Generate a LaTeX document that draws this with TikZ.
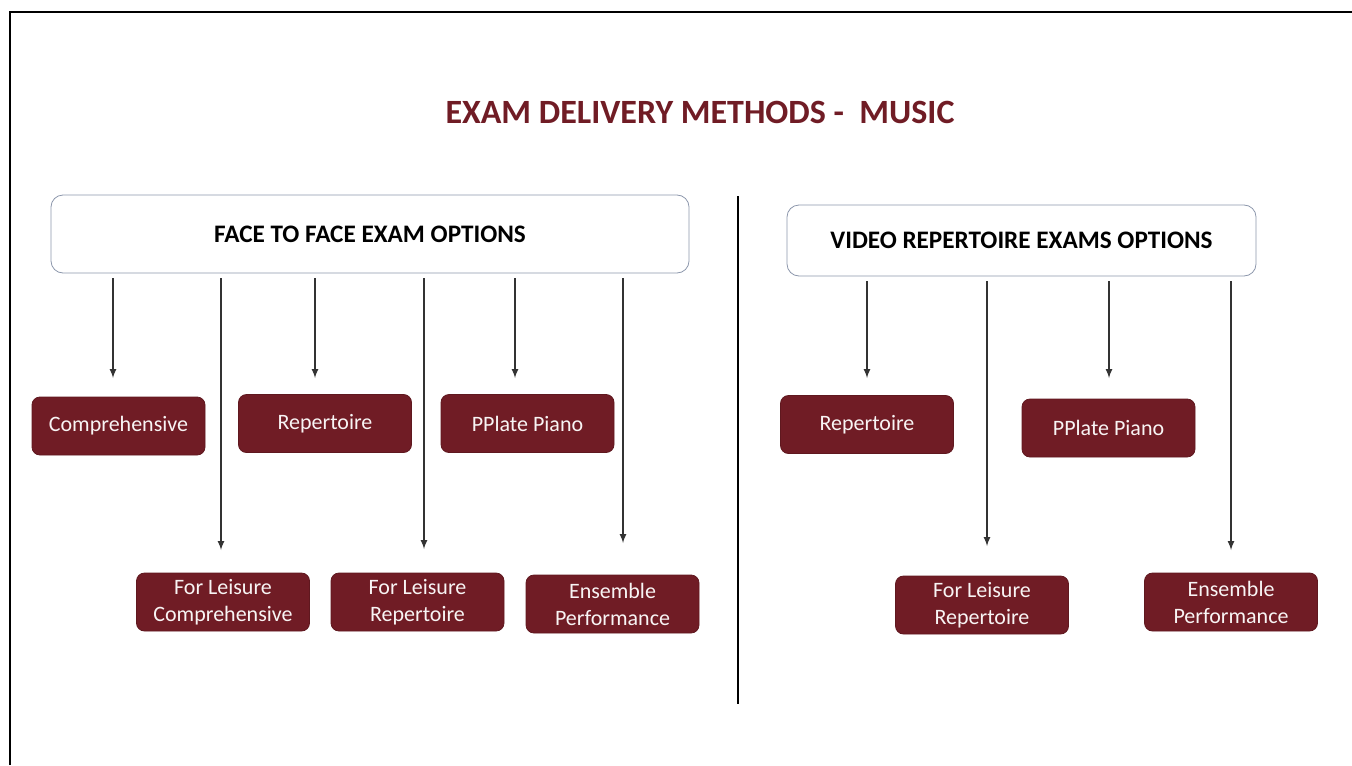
\documentclass[tikz,border=0pt]{standalone}
\usepackage{fontspec}
\setmainfont{Carlito}
\usepackage{tikz}

\definecolor{examred}{HTML}{701C25}
\definecolor{hdrline}{HTML}{8C97AC}

\tikzset{
  optbox/.style={draw=examred!85!black, fill=examred, text=white!95!examred, rounded corners=4pt,
    minimum width=86.5pt, minimum height=29pt, inner sep=0pt, align=center,
    font=\fontsize{11}{13.5}\selectfont},
  hdrbox/.style={draw=hdrline, fill=white, rounded corners=6pt, inner sep=0pt,
    font=\bfseries\fontsize{12.6}{15}\selectfont},
  arr/.style={->, >=latex, draw=black!80, line width=0.55pt, shorten <=2.5pt}
}

\begin{document}
\begin{tikzpicture}[x=0.5pt, y=-0.5pt]
    \useasboundingbox (0,0) rectangle (1352,765);
    % frame
    \draw[line width=1pt] (10,765) -- (10,12) -- (1352,12);
    \node (title) at (700,112) {\bfseries\fontsize{17}{20}\selectfont\color{examred}EXAM DELIVERY METHODS -\ \ MUSIC};
    % divider
    \draw[line width=1.3pt] (738,196) -- (738,704);

    % face to face side
    \node[hdrbox, minimum width=319pt, minimum height=39pt] (ff) at (370,234) {FACE TO FACE EXAM OPTIONS};
    \node[optbox] (comp)  at (118.5,426) {Comprehensive};
    \node[optbox] (repl)  at (325,423.5) {Repertoire};
    \node[optbox] (ppl)   at (527.5,423.5) {PPlate Piano};
    \node[optbox] (flc)   at (223,602) {For Leisure\\Comprehensive};
    \node[optbox] (flrl)  at (417.5,602) {For Leisure\\Repertoire};
    \node[optbox] (ensl)  at (612.5,604) {Ensemble\\Performance};

    % video side
    \node[hdrbox, minimum width=234.5pt, minimum height=35.5pt] (vr) at (1021.5,240.5) {VIDEO REPERTOIRE EXAMS OPTIONS};
    \node[optbox] (repr)  at (867,424.5) {Repertoire};
    \node[optbox] (ppr)   at (1108.5,428) {PPlate Piano};
    \node[optbox] (flrr)  at (982,605) {For Leisure\\Repertoire};
    \node[optbox] (ensr)  at (1231,602) {Ensemble\\Performance};

    % arrow tips, they stop short of the boxes
    \foreach \t/\x/\y in {a/113/378, b/221/550, c/315/378, d/424/549, e/515/378, f/623/543}
    {
      \coordinate (\t) at (\x,\y);
      \draw[arr] (ff.south -| \t) -- (\t);
    }
    \foreach \t/\x/\y in {g/867/378, h/987/546, i/1109/378, j/1231/550}
    {
      \coordinate (\t) at (\x,\y);
      \draw[arr] (vr.south -| \t) -- (\t);
    }
\end{tikzpicture}
\end{document}
